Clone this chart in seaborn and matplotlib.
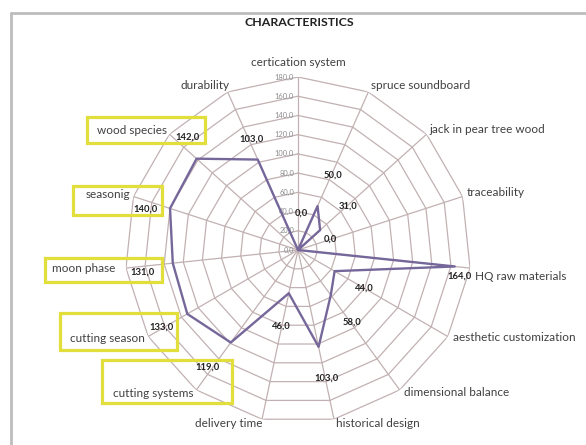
import numpy as np
import pandas as pd
import seaborn as sns
import matplotlib
matplotlib.use("Agg")
import matplotlib.pyplot as plt
from matplotlib.patches import Rectangle

# ---- data ----
categories = ["certication system", "spruce soundboard", "jack in pear tree wood",
              "traceability", "HQ raw materials", "aesthetic customization",
              "dimensional balance", "historical design", "delivery time",
              "cutting systems", "cutting season", "moon phase", "seasonig",
              "wood species", "durability"]
values = [0, 50, 31, 0, 164, 44, 58, 103, 46, 119, 133, 131, 140, 142, 103]
radial_ticks = [0, 20, 40, 60, 80, 100, 120, 140, 160, 180]
title = "CHARACTERISTICS"
highlighted = ["wood species", "seasonig", "moon phase", "cutting season", "cutting systems"]

# ---- layout (label placement only, pixel offsets) ----
value_label_offsets = [(3, -37), (15, -31), (28, -24), (32, -11), (5, 10), (30, 17),
                       (21, 27), (8, 31), (-7, 33), (-23, 25), (-26, 13), (-30, 9),
                       (-25, 1), (-9, -22), (-6, -20)]
cat_offsets = [(0, -15, "center"), (3, -6, "left"), (3, -5, "left"), (4, -4, "left"),
               (5, 8, "left"), (5, 1, "left"), (4, 3, "left"), (2, 4, "left"),
               (0, 4, "right"), (-3, 4, "right"), (-3, 2, "right"), (-11, 0, "right"),
               (-3, -2, "right"), (-2, -4, "right"), (2, -6, "right")]
# highlight boxes in pixel coords (x0, y0, x1, y1), top-left origin
boxes = {"wood species": (87, 117, 205, 143), "seasonig": (73, 186, 162, 215),
         "moon phase": (45, 258, 162, 282), "cutting season": (60, 313, 177, 350),
         "cutting systems": (102, 360, 232, 403)}

sns.set_theme(style="white")
plt.rcParams["font.family"] = ["Lato", "DejaVu Sans"]

W, H = 586, 445
fig = plt.figure(figsize=(W / 100, H / 100), dpi=100)
fig.patch.set_facecolor("white")

cx, cy, R = 298, 250, 173
ax = fig.add_axes([(cx - R) / W, (H - cy - R) / H, 2 * R / W, 2 * R / H], projection="polar")
ax.set_theta_zero_location("N")
ax.set_theta_direction(-1)
ax.set_ylim(0, 180)
ax.grid(False)
ax.spines["polar"].set_visible(False)
ax.set_xticks([])
ax.set_yticks([])
ax.set_facecolor("white")

n = len(categories)
theta = np.arange(n) * 2 * np.pi / n
grid_color = "#c2b1b2"

# polygon rings
for t in radial_ticks[1:]:
    ax.plot(np.append(theta, theta[0]), [t] * (n + 1), color=grid_color, lw=0.9, zorder=1)
# spokes
for th in theta:
    ax.plot([th, th], [0, 180], color=grid_color, lw=0.9, zorder=1)

# data
df = pd.DataFrame({"theta": np.append(theta, 2 * np.pi), "value": values + [values[0]]})
sns.lineplot(data=df, x="theta", y="value", sort=False, estimator=None, ax=ax,
             color="#76679a", lw=1.7, zorder=3)
ax.set_xlabel("")
ax.set_ylabel("")
ax.set_ylim(0, 180)

# radial tick labels
for t in radial_ticks:
    ax.annotate(f"{t:.1f}".replace(".", ","), xy=(0, t), xytext=(-4, 0),
                textcoords="offset pixels", ha="right", va="center",
                fontsize=5.4, color="#8c8c8c", zorder=2)

# value labels
for th, v, (dx, dy) in zip(theta, values, value_label_offsets):
    ax.annotate(f"{v:.1f}".replace(".", ","), xy=(th, v), xytext=(dx, -dy),
                textcoords="offset pixels", ha="center", va="center",
                fontsize=6.8, fontweight="bold", color="#222222", zorder=4)

# category labels
for th, c, (dx, dy, ha) in zip(theta, categories, cat_offsets):
    ax.annotate(c, xy=(th, 180), xytext=(dx, -dy), textcoords="offset pixels",
                ha=ha, va="center", fontsize=8.5, color="#404040",
                annotation_clip=False, zorder=4)

# highlight boxes
for name in highlighted:
    x0, y0, x1, y1 = boxes[name]
    fig.add_artist(Rectangle((x0 / W, 1 - y1 / H), (x1 - x0) / W, (y1 - y0) / H,
                             transform=fig.transFigure, fill=False,
                             ec="#e2df3c", lw=2.3, zorder=5))

# frame lines (top and left)
fig.add_artist(plt.Line2D([11 / W, 1], [1 - 13 / H, 1 - 13 / H], transform=fig.transFigure,
                          color="#bdbdbd", lw=2))
fig.add_artist(plt.Line2D([11 / W, 11 / W], [0, 1 - 13 / H], transform=fig.transFigure,
                          color="#bdbdbd", lw=2))

fig.text(299 / W, 1 - 23 / H, title, ha="center", va="center", fontsize=8.9,
         fontweight="bold", color="#222222")

fig.savefig("out.png", dpi=100, facecolor="white")
